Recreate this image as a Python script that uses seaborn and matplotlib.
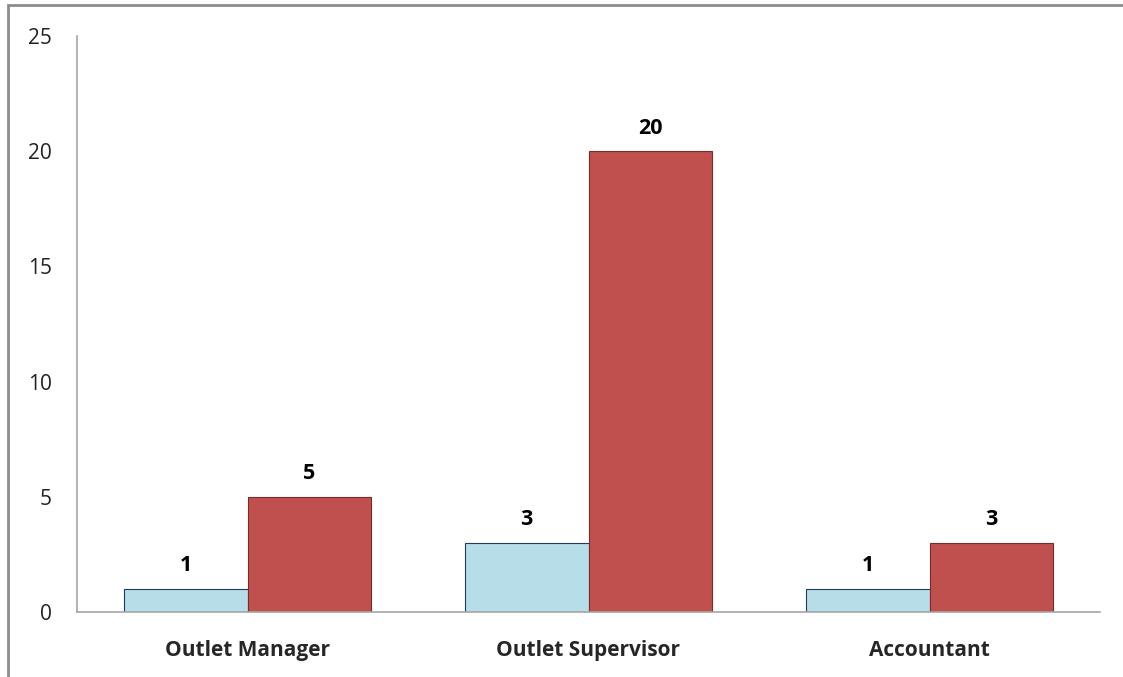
import matplotlib
matplotlib.use("Agg")
import matplotlib.pyplot as plt
import pandas as pd
import seaborn as sns
from matplotlib.patches import Rectangle

categories = ["Outlet Manager", "Outlet Supervisor", "Accountant"]
series_a = [1, 3, 1]
series_b = [5, 20, 3]
series_names = ["A", "B"]

df = pd.DataFrame({
    "role": categories * 2,
    "count": series_a + series_b,
    "series": [series_names[0]] * 3 + [series_names[1]] * 3,
})

sns.set_theme(style="white")
plt.rcParams["font.family"] = ["Open Sans", "DejaVu Sans"]

fig = plt.figure(figsize=(11.23, 6.77), dpi=100)
ax = fig.add_axes([77 / 1123, 1 - 612 / 677, 1023 / 1123, 576 / 677])

sns.barplot(data=df, x="role", y="count", hue="series", order=categories,
            hue_order=series_names, palette=["#B7DDE8", "#C0504D"],
            width=0.727, saturation=1, legend=False, ax=ax)

edges = ["#1F3A5F", "#7A2A28"]
for cont, ec in zip(ax.containers, edges):
    for bar in cont:
        bar.set_edgecolor(ec)
        bar.set_linewidth(0.8)
    ax.bar_label(cont, padding=9, fontsize=15.5, fontweight="bold", color="black")

ax.set_xlim(-0.5, 2.5)
ax.set_ylim(0, 25)
ax.set_yticks([0, 5, 10, 15, 20, 25])
ax.set_xlabel("")
ax.set_ylabel("")
ax.tick_params(axis="y", length=0, pad=18, labelsize=15, labelcolor="#222222")
ax.tick_params(axis="x", length=0, pad=20, labelsize=15)
for lbl in ax.get_xticklabels():
    lbl.set_fontweight("bold")

for side in ["top", "right"]:
    ax.spines[side].set_visible(False)
for side in ["left", "bottom"]:
    ax.spines[side].set_color("#A6A6A6")
    ax.spines[side].set_linewidth(1.2)

# outer chart border (left and top edges visible)
fig.patches.append(Rectangle((8 / 1123, -0.1), 1.2, 1 - 5 / 677 + 0.1,
                             transform=fig.transFigure, fill=False,
                             edgecolor="#8C8C8C", linewidth=2))

fig.savefig("out.png", dpi=100)
